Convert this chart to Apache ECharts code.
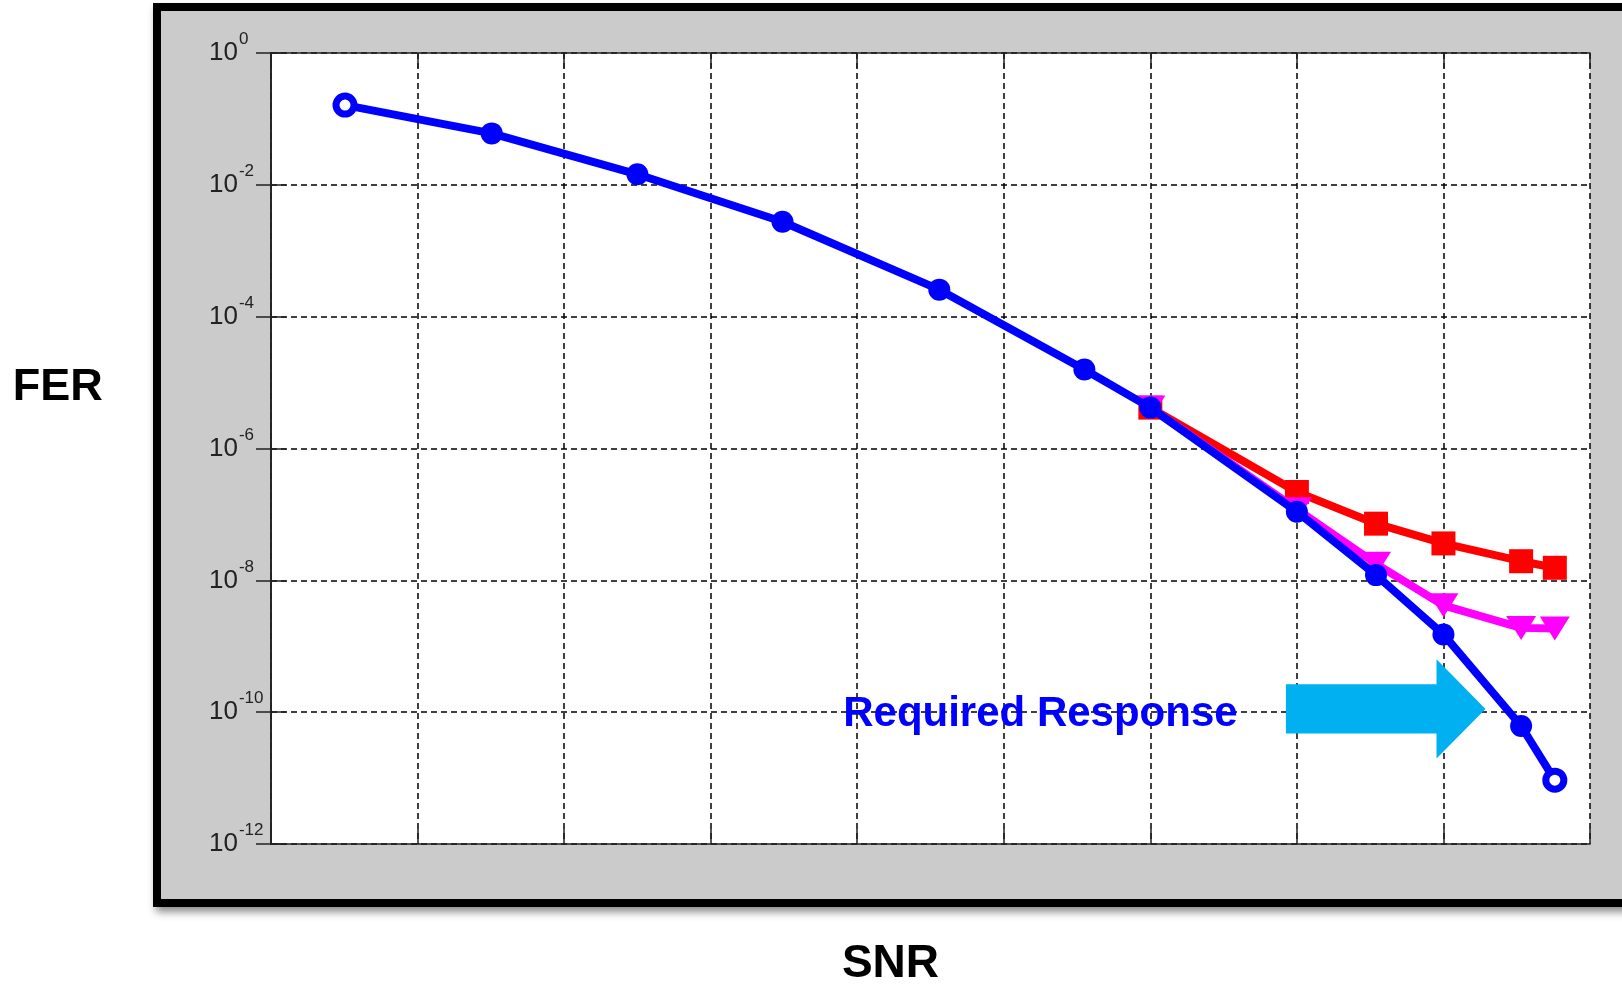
<!DOCTYPE html>
<html><head><meta charset="utf-8">
<script src="https://cdn.jsdelivr.net/npm/echarts@6/dist/echarts.min.js"></script>
<style>html,body{margin:0;padding:0;background:#fff}#c{width:1622px;height:984px}</style>
</head><body><div id="c"></div>
<script>
// ---- data ----
const snr        = [0.505, 1.506, 2.50, 3.49, 4.56, 5.55, 6.0, 7.0, 7.54, 8.0, 8.53, 8.76];
const ferBlue    = [0.162, 0.0603, 0.01445, 0.00275, 2.57e-4, 1.58e-5, 4.17e-6, 1.10e-7, 1.20e-8, 1.51e-9, 6.17e-11, 9.3e-12];
const snrTail    = [6.0, 7.0, 7.54, 8.0, 8.53, 8.76];
const ferRed     = [4.17e-6, 2.19e-7, 7.24e-8, 3.63e-8, 1.95e-8, 1.55e-8];
const ferMagenta = [4.17e-6, 1.2e-7, 1.78e-8, 4.17e-9, 1.9e-9, 1.86e-9];
const xRange = [0, 9];
const yRange = [1e-12, 1];
const xLabel = 'SNR';
const yLabel = 'FER';
const annotationText = 'Required Response';
const textAnchor = [5.25, 9.3e-11];
const arrowFrom  = [6.925, 1.12e-10];
const arrowTo    = [8.287, 1.12e-10];

const FONT = '"Liberation Sans", Arial, Helvetica, sans-serif';
const chart = echarts.init(document.getElementById('c'), null, {renderer: 'canvas'});

const blueData = snr.map((x, i) => {
  const d = {value: [x, ferBlue[i]]};
  if (i === 0 || i === snr.length - 1) {
    d.itemStyle = {color: '#ffffff', borderColor: '#0000ff', borderWidth: 7};
    d.symbolSize = 18;
  }
  return d;
});

const tickStyle = {show: true, inside: true, length: 15, lineStyle: {color: '#222', width: 1.5}};
const lineAx = {show: true, lineStyle: {color: '#222', width: 1.6}};
const dashed = {show: true, lineStyle: {color: '#000', width: 1.5, type: [6, 4]}};

chart.setOption({
  animation: false,
  backgroundColor: 'transparent',
  grid: {left: 271, top: 53, right: 32, bottom: 140, show: true, backgroundColor: '#ffffff', borderWidth: 0},
  xAxis: [
    {type: 'value', min: xRange[0], max: xRange[1], interval: 1, position: 'bottom',
     axisLine: lineAx, axisTick: tickStyle, axisLabel: {show: false}, splitLine: dashed},
    {type: 'value', min: xRange[0], max: xRange[1], interval: 1, position: 'top',
     axisLine: lineAx, axisTick: tickStyle, axisLabel: {show: false}, splitLine: {show: false}}
  ],
  yAxis: [
    {type: 'log', logBase: 10, min: yRange[0], max: yRange[1], interval: 2, splitNumber: 6, position: 'left',
     axisLine: lineAx, axisTick: tickStyle, splitLine: dashed,
     axisLabel: {
       show: true, align: 'left', margin: 62, showMinLabel: true, showMaxLabel: true,
       formatter: v => '{b|10}{s|' + Math.round(Math.log10(v)) + '}',
       rich: {
         b: {fontSize: 26, lineHeight: 44, color: '#222', fontFamily: FONT},
         s: {fontSize: 17, lineHeight: 16, verticalAlign: 'top', color: '#222', fontFamily: FONT, padding: [0, 0, 0, 1]}
       }
     }},
    {type: 'log', logBase: 10, min: yRange[0], max: yRange[1], interval: 2, splitNumber: 6, position: 'right',
     axisLine: lineAx, axisTick: tickStyle, axisLabel: {show: false}, splitLine: {show: false}}
  ],
  series: [
    {type: 'line', name: 'red', z: 3,
     data: snrTail.map((x, i) => [x, ferRed[i]]),
     symbol: 'rect', symbolSize: 24,
     lineStyle: {color: '#ff0000', width: 8}, itemStyle: {color: '#ff0000'}},
    {type: 'line', name: 'magenta', z: 4,
     data: snrTail.map((x, i) => [x, ferMagenta[i]]),
     symbol: 'triangle', symbolRotate: 180, symbolSize: [30, 24],
     lineStyle: {color: '#ff00ff', width: 8}, itemStyle: {color: '#ff00ff'}},
    {type: 'line', name: 'blue', z: 5,
     data: blueData,
     symbol: 'circle', symbolSize: 22,
     lineStyle: {color: '#0000ff', width: 8}, itemStyle: {color: '#0000ff'}}
  ]
});

const a0 = chart.convertToPixel({xAxisIndex: 0, yAxisIndex: 0}, arrowFrom);
const a1 = chart.convertToPixel({xAxisIndex: 0, yAxisIndex: 0}, arrowTo);
const tp = chart.convertToPixel({xAxisIndex: 0, yAxisIndex: 0}, textAnchor);
const cy = a0[1], tipX = a1[0], headX = tipX - 49, bh = 24.7, hh = 49.7;

chart.setOption({
  graphic: [
    {type: 'rect', z: -100, shape: {x: 153, y: 3, width: 1500, height: 904},
     style: {fill: '#000', shadowBlur: 8, shadowOffsetX: 3, shadowOffsetY: 5, shadowColor: 'rgba(0,0,0,0.45)'}},
    {type: 'rect', z: -99, shape: {x: 161, y: 11, width: 1500, height: 888}, style: {fill: '#cbcbcb'}},
    {type: 'polygon', z: 100,
     shape: {points: [[a0[0], cy - bh], [headX, cy - bh], [headX, cy - hh], [tipX, cy], [headX, cy + hh], [headX, cy + bh], [a0[0], cy + bh]]},
     style: {fill: '#00b0f0'}},
    {type: 'text', z: 100, x: tp[0], y: tp[1],
     style: {text: annotationText, fill: '#0000ff', font: 'bold 42px ' + FONT, textAlign: 'center', textVerticalAlign: 'middle'}},
    {type: 'text', z: 100, x: 57.7, y: 388,
     style: {text: yLabel, fill: '#000', font: 'bold 45px ' + FONT, textAlign: 'center', textVerticalAlign: 'middle'}},
    {type: 'text', z: 100, x: 890.5, y: 964,
     style: {text: xLabel, fill: '#000', font: 'bold 46px ' + FONT, textAlign: 'center', textVerticalAlign: 'middle'}}
  ]
});
</script>
</body></html>
